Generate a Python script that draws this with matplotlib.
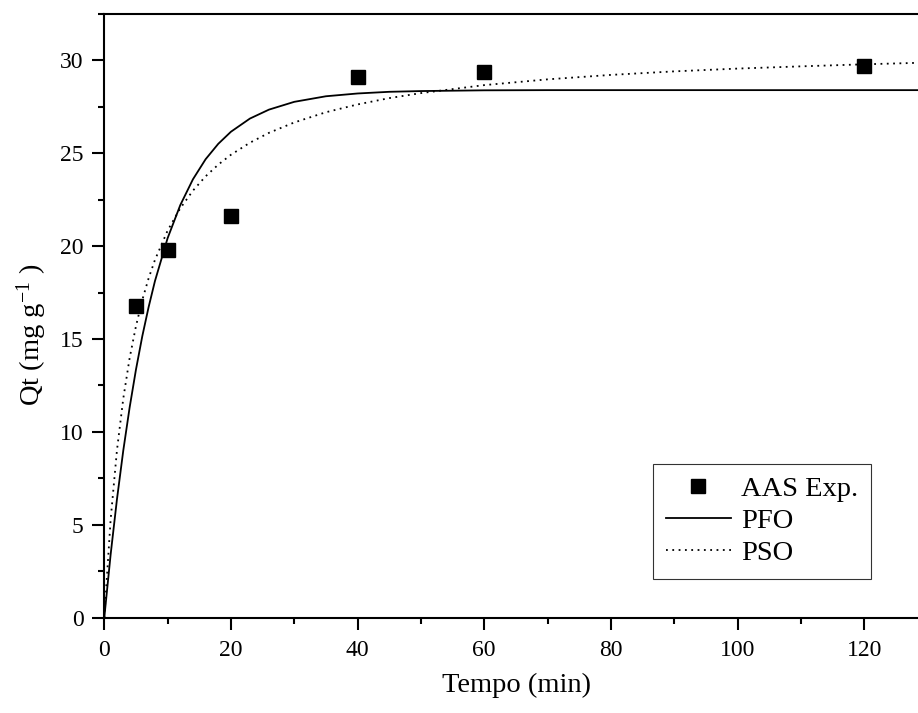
import matplotlib
matplotlib.use("Agg")
import matplotlib.pyplot as plt
from matplotlib.ticker import MultipleLocator

plt.rcParams["font.family"] = ["Liberation Serif", "DejaVu Serif"]
plt.rcParams["mathtext.fontset"] = "custom"
plt.rcParams["mathtext.rm"] = "Liberation Serif"
plt.rcParams["mathtext.it"] = "Liberation Serif:italic"

# experimental points
t_exp = [5, 10, 20, 40, 60, 120]
q_exp = [16.8, 19.8, 21.6, 29.1, 29.4, 29.7]

# model curves
t_fit = [0, 1, 2, 3, 4, 5, 6, 7, 8, 10, 12, 14, 16, 18, 20, 23, 26, 30, 35,
         40, 45, 50, 60, 70, 80, 90, 100, 110, 120, 128.5]
q_pfo = [0, 3.39, 6.37, 9.00, 11.31, 13.35, 15.15, 16.72, 18.12, 20.43, 22.21,
         23.60, 24.68, 25.51, 26.16, 26.87, 27.35, 27.77, 28.07, 28.22, 28.31,
         28.35, 28.39, 28.40, 28.40, 28.40, 28.40, 28.40, 28.40, 28.40]
q_pso = [0, 5.27, 9.01, 11.80, 13.97, 15.69, 17.10, 18.27, 19.26, 20.84, 22.04,
         22.99, 23.76, 24.39, 24.92, 25.57, 26.10, 26.66, 27.21, 27.63, 27.97,
         28.24, 28.67, 28.98, 29.22, 29.41, 29.56, 29.68, 29.79, 29.87]

fig = plt.figure(figsize=(9.18, 7.13), dpi=100)
ax = fig.add_axes([0.1136, 0.1337, 0.8864, 0.8467])

ax.plot(t_exp, q_exp, "s", color="black", markersize=9.5, label="AAS Exp.", zorder=3)
ax.plot(t_fit, q_pfo, "-", color="black", linewidth=1.3, label="PFO")
ax.plot(t_fit, q_pso, color="black", linewidth=1.3, linestyle=(0, (1, 2.5)), label="PSO")

ax.set_xlim(0, 128.5)
ax.set_ylim(0, 32.5)
ax.xaxis.set_major_locator(MultipleLocator(20))
ax.xaxis.set_minor_locator(MultipleLocator(10))
ax.yaxis.set_major_locator(MultipleLocator(5))
ax.yaxis.set_minor_locator(MultipleLocator(2.5))

for s in ["left", "bottom", "top"]:
    ax.spines[s].set_linewidth(1.5)
ax.spines["right"].set_visible(False)

ax.tick_params(which="major", direction="out", length=8.5, width=1.5, labelsize=17)
ax.tick_params(which="minor", direction="out", length=4, width=1.5)
ax.tick_params(axis="x", which="major", pad=7.5)
ax.tick_params(axis="y", which="major", pad=6.5)
ax.tick_params(top=False, right=False)

ax.set_xlabel("Tempo (min)", fontsize=20.5)
ax.xaxis.set_label_coords(0.506, -0.092)
ax.set_ylabel("Qt (mg g$^{-1}$ )", fontsize=20.5)
ax.yaxis.set_label_coords(-0.068, 0.468)

leg = ax.legend(loc="lower left", bbox_to_anchor=(0.674, 0.064), borderaxespad=0,
                fontsize=20.5, frameon=True, fancybox=False, edgecolor="black",
                handlelength=2.3, labelspacing=0.21, handletextpad=0.35,
                borderpad=0.45)
leg.get_frame().set_linewidth(0.8)

fig.savefig("out.png", dpi=100)
